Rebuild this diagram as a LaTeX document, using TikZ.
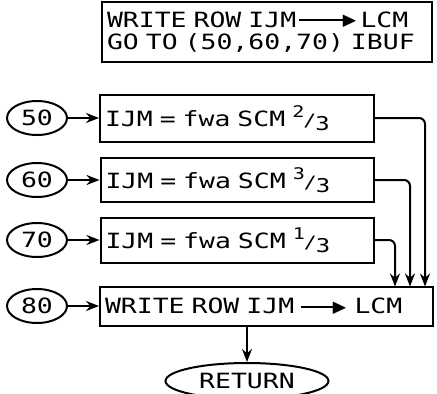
\documentclass[tikz,border=0pt]{standalone}
\usepackage{amssymb}
\usepackage{fontspec}
\usepackage{tikz}
\usetikzlibrary{shapes.geometric,arrows.meta}

\newfontfamily\lettering[FakeStretch=1.26]{DejaVu Sans Mono}
\newcommand{\rowarrow}[1]{\rule[0.28em]{#1}{2pt}\kern-4pt\raisebox{0.02em}{$\blacktriangleright$}}
\newcommand{\frc}[2]{\raisebox{0.42em}{\fontsize{16}{16}\selectfont#1}\kern-1pt{\fontsize{17}{17}\selectfont/}\kern-1pt\raisebox{-0.18em}{\fontsize{19}{19}\selectfont#2}}

\begin{document}
\begin{tikzpicture}[x=1pt, y=-1pt,
  every node/.style={font=\lettering\fontsize{21}{22}\selectfont},
  codebox/.style={draw, rectangle, line width=2pt, inner xsep=5pt, inner ysep=0pt, align=left},
  tag/.style={draw, ellipse, line width=2pt, minimum width=60pt, minimum height=34pt, inner sep=0pt},
  flow/.style={line width=2pt, -{Stealth[length=13pt,width=10pt]}}]
\useasboundingbox (0,0) rectangle (437,394);

% kopf
\node[codebox, text width=320pt, minimum height=60pt] (G) at (267,32) {\mbox{WRITE ROW IJM\kern3pt\rowarrow{46pt}\kern3pt LCM}\\\mbox{GO TO (50,60,70) IBUF}};

% die drei zweige
\node[tag] (O50) at (37,118) {50};
\node[codebox, text width=264pt, minimum height=47pt] (S50) at (237,118) {IJM = fwa SCM \frc{2}{3}};

\node[tag] (O60) at (37,180) {60};
\node[codebox, text width=263pt, minimum height=44pt] (S60) at (237,180) {IJM = fwa SCM \frc{3}{3}};

\node[tag] (O70) at (37,240) {70};
\node[codebox, text width=263pt, minimum height=45pt] (S70) at (237,240) {IJM = fwa SCM \frc{1}{3}};

% schreiben und zurueck
\node[tag] (O80) at (37,306) {80};
\node[codebox, text width=323pt, minimum height=39pt] (S80) at (266.5,306) {\mbox{WRITE ROW IJM \rowarrow{34pt} LCM}};

\node[tag, minimum width=163pt, minimum height=36pt] (R) at (247,381) {RETURN};

\coordinate (K50) at (425,286.5);
\coordinate (K60) at (410,286.5);
\coordinate (K70) at (395,286.5);

\draw[flow] (O50) -- (S50);
\draw[flow] (O60) -- (S60);
\draw[flow] (O70) -- (S70);
\draw[flow] (O80) -- (S80);

\draw[flow, rounded corners=6pt] (S50.east) -| (K50);
\draw[flow, rounded corners=6pt] (S60.east) -| (K60);
\draw[flow, rounded corners=6pt] (S70.east) -| (K70);

\draw[flow] (S80.south -| R.north) -- (R.north);

\end{tikzpicture}
\end{document}
